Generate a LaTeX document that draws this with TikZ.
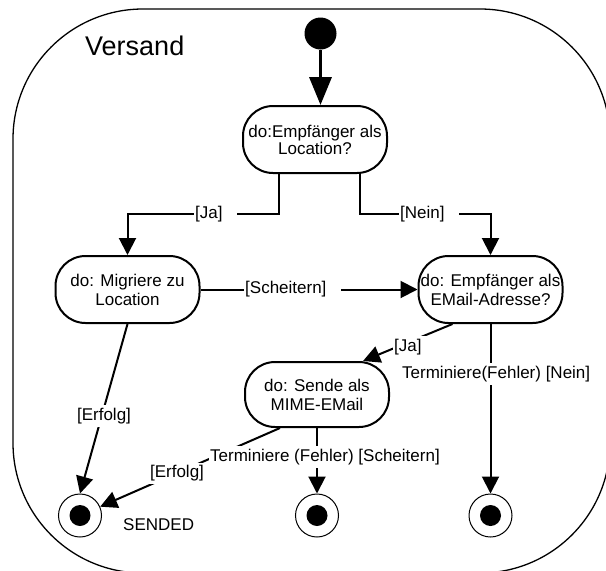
\documentclass[tikz,border=0pt]{standalone}
\usepackage{fontspec}
\setmainfont{Liberation Sans}
\usetikzlibrary{arrows.meta}
\begin{document}
\begin{tikzpicture}[x=1pt,y=-1pt,
  state/.style={draw, line width=2pt, fill=white, rounded corners=30pt,
    minimum width=144pt, minimum height=67pt, inner sep=0pt, align=center,
    font=\fontsize{17pt}{19pt}\selectfont},
  startdot/.style={circle, fill=black, inner sep=0pt, minimum size=32pt},
  final/.style={circle, draw, line width=1pt, fill=white, inner sep=0pt,
    minimum size=43pt,
    path picture={\fill[black] (path picture bounding box.center) circle (10.5pt);}},
  conn/.style={line width=2pt, -{Triangle[length=17pt,width=17pt]}},
  thickconn/.style={line width=3.5pt, -{Triangle[length=28pt,width=22pt]}},
  guard/.style={fill=white, inner xsep=1pt, inner ysep=3pt,
    font=\fontsize{17pt}{19pt}\selectfont},
]
\useasboundingbox (0,0) rectangle (606,571);
\clip (0,0) rectangle (606,571);

% composite state frame
\draw[line width=1.3pt, rounded corners=130pt] (13,9) rectangle (610,573);
\node[anchor=west, inner sep=0pt, font=\fontsize{27pt}{30pt}\selectfont] (title) at (85,45.5) {Versand};

% states
\node[startdot] (init) at (320.5,33.5) {};
\node[state, font=\fontsize{17pt}{17pt}\selectfont] (n1) at (315,139.5) {do:Empfänger als\\Location?};
\node[state] (n2) at (127.5,289.5) {do: Migriere zu\\Location};
\node[state] (n3) at (490.5,289.5) {do: Empfänger als\\EMail-Adresse?};
\node[state, minimum height=65pt] (n4) at (317,394.5) {do: Sende als\\MIME-EMail};

\node[final] (f1) at (80,515.5) {};
\node[final] (f2) at (317,515.5) {};
\node[final] (f3) at (490.5,515.5) {};
\node[anchor=west, inner sep=0pt, font=\fontsize{17pt}{19pt}\selectfont] (sended) at (123,525) {SENDED};

% transitions
\draw[thickconn] (init) -- (init |- n1.north);

\coordinate (yb) at (0,214);
\coordinate (a1) at ([xshift=-36pt]n1.south);
\coordinate (a2) at ([xshift=45pt]n1.south);
\draw[conn] (a1) -- (a1 |- yb) -| (n2.north);
\draw[conn] (a2) -- (a2 |- yb) -| (n3.north);

\draw[conn] (n2.east) -- (n3.west);
\draw[conn] (n2.south) -- (f1.north);
\draw[conn] ([xshift=-38pt]n3.south) -- ([xshift=46pt]n4.north);
\draw[conn] (n3.south) -- (f3.north);
\draw[conn] ([xshift=-37pt]n4.south) -- (f1);
\draw[conn] (n4.south) -- (f2.north);

% guards and actions on the transitions
\node[guard, anchor=west] (gja) at (194,214) {[Ja]\hspace*{13pt}};
\node[guard, anchor=west] (gnein) at (399,214) {[Nein]\hspace*{13pt}};
\node[guard, anchor=west] (gsch) at (244,289.5) {[Scheitern]\hspace*{14pt}};
\node[guard] (gerf1) at (104,416) {[Erfolg]};
\node[guard, anchor=west] (gja2) at (393,347) {[Ja]\hspace*{7pt}};
\node[guard, anchor=west] (gtn) at (401,374) {Terminiere(Fehler) [Nein]};
\node[guard, anchor=west] (gts) at (209,457) {Terminiere (Fehler) [Scheitern]};
\node[guard] (gerf2) at (177,473.5) {[Erfolg]};
\end{tikzpicture}
\end{document}
